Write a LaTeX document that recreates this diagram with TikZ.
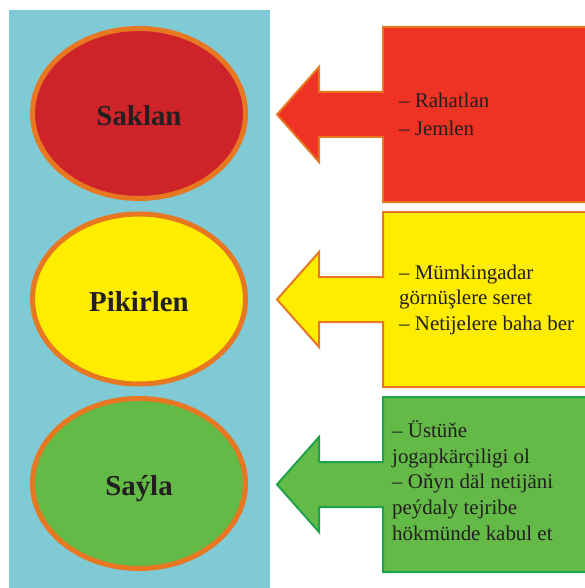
\documentclass[tikz,border=0pt]{standalone}
\usepackage{fontspec}
\setmainfont{Liberation Serif}
\usetikzlibrary{shapes.geometric}
\definecolor{panelblue}{HTML}{80CAD6}
\definecolor{ringorange}{HTML}{E87722}
\definecolor{stopred}{HTML}{CF232A}
\definecolor{boxred}{HTML}{EE3224}
\definecolor{waityellow}{HTML}{FFED00}
\definecolor{gogreen}{HTML}{63BA47}
\definecolor{edgegreen}{HTML}{1FA34A}
\definecolor{inkdark}{HTML}{231F20}
\tikzset{
  lamp/.style={ellipse,draw=ringorange,line width=5bp,minimum width=213bp,
    minimum height=170bp,inner sep=0pt,text height=24bp,text depth=0pt,
    text=inkdark,font=\fontsize{29}{31}\selectfont\bfseries},
  sign/.style={line width=2bp,line join=miter},
  hint/.style={anchor=base west,align=left,inner sep=0pt,text=inkdark}
}
\begin{document}
\begin{tikzpicture}[x=1bp,y=-1bp]
  \useasboundingbox (0,0) rectangle (585,588);
  \clip (0,0) rectangle (585,588);
  % background strip
  \fill[panelblue] (9,10) rectangle (270,590);
  % the three lamps
  \node[lamp,fill=stopred] (saklan) at (139,113.5) {Saklan};
  \node[lamp,fill=waityellow] (pikirlen) at (139,299) {Pikirlen};
  \node[lamp,fill=gogreen] (sayla) at (139,483.5) {Saýla};
  % arrow shaped boxes
  \foreach \c/\fc/\dc in {114.5/boxred/ringorange,299.5/waityellow/ringorange,484.5/gogreen/edgegreen}{
    \draw[sign,fill=\fc,draw=\dc] (592,\c-87.5) -- (383,\c-87.5) -- (383,\c-22.5)
      -- (319,\c-22.5) -- (319,\c-47.5) -- (277,\c) -- (319,\c+47.5) -- (319,\c+22.5)
      -- (383,\c+22.5) -- (383,\c+87.5) -- (592,\c+87.5);
  }
  % texts, anchored at the baseline of their last line
  \node[hint,font=\fontsize{21}{29}\selectfont] (stoptext) at (399,136)
    {-- Rahatlan\\-- Jemlen};
  \node[hint,font=\fontsize{21}{25.5}\selectfont] (waittext) at (399,330)
    {-- Mümkingadar\\görnüşlere seret\\-- Netijelere baha ber};
  \node[hint,font=\fontsize{21}{25.7}\selectfont] (gotext) at (392,540)
    {-- Üstüňe\\jogapkärçiligi ol\\-- Oňyn däl netijäni\\peýdaly tejribe\\hökmünde kabul et};
\end{tikzpicture}
\end{document}
